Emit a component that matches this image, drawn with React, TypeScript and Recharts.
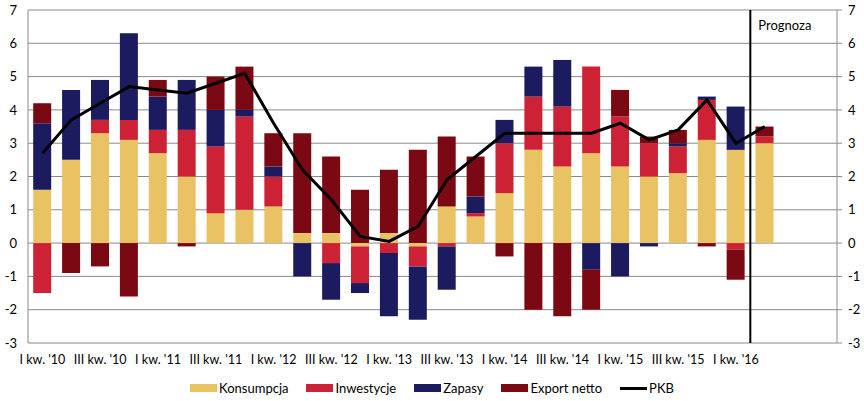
import {
  ComposedChart,
  Bar,
  Line,
  XAxis,
  YAxis,
  CartesianGrid,
  Legend,
  ReferenceLine
} from "recharts"

// kwartały 2010-2016 (dwa ostatnie bez danych - bez podpisu)
const quarters = [
  "I kw. '10", "II kw. '10", "III kw. '10", "IV kw. '10",
  "I kw. '11", "II kw. '11", "III kw. '11", "IV kw. '11",
  "I kw. '12", "II kw. '12", "III kw. '12", "IV kw. '12",
  "I kw. '13", "II kw. '13", "III kw. '13", "IV kw. '13",
  "I kw. '14", "II kw. '14", "III kw. '14", "IV kw. '14",
  "I kw. '15", "II kw. '15", "III kw. '15", "IV kw. '15",
  "I kw. '16", "II kw. '16", "III kw. '16", "IV kw. '16"
]

const konsumpcja = [1.6, 2.5, 3.3, 3.1, 2.7, 2.0, 0.9, 1.0, 1.1, 0.3, 0.3, -0.1, 0.3, -0.1, 1.1, 0.8, 1.5, 2.8, 2.3, 2.7, 2.3, 2.0, 2.1, 3.1, 2.8, 3.0]
const inwestycje = [-1.5, 0, 0.4, 0.6, 0.7, 1.4, 2.0, 2.8, 0.9, 0, -0.6, -1.1, -0.3, -0.6, -0.1, 0.1, 1.5, 1.6, 1.8, 2.6, 1.5, 1.0, 0.8, 1.2, -0.2, 0.2]
const zapasy = [2.0, 2.1, 1.2, 2.6, 1.0, 1.5, 1.1, 0.2, 0.3, -1.0, -1.1, -0.3, -1.9, -1.6, -1.3, 0.5, 0.7, 0.9, 1.4, -0.8, -1.0, -0.1, 0.1, 0.1, 1.3, 0]
const exportNetto = [0.6, -0.9, -0.7, -1.6, 0.5, -0.1, 1.0, 1.3, 1.0, 3.0, 2.3, 1.6, 1.9, 2.8, 2.1, 1.2, -0.4, -2.0, -2.2, -1.2, 0.8, 0.2, 0.4, -0.1, -0.9, 0.3]
const pkb = [2.7, 3.7, 4.2, 4.7, 4.6, 4.5, 4.8, 5.1, 3.6, 2.2, 1.3, 0.2, 0.05, 0.5, 1.9, 2.6, 3.3, 3.3, 3.3, 3.3, 3.6, 3.1, 3.4, 4.3, 3.0, 3.5]

const yTicks = [-3, -2, -1, 0, 1, 2, 3, 4, 5, 6, 7]
const forecastStart = "II kw. '16"

const series = [
  { key: "konsumpcja", name: "Konsumpcja", color: "#E9C263" },
  { key: "inwestycje", name: "Inwestycje", color: "#CD2236" },
  { key: "zapasy", name: "Zapasy", color: "#1D1B5F" },
  { key: "exportNetto", name: "Export netto", color: "#7A0914" }
]

const data = quarters.map((q, i) => ({
  q,
  konsumpcja: konsumpcja[i] ?? null,
  inwestycje: inwestycje[i] ?? null,
  zapasy: zapasy[i] ?? null,
  exportNetto: exportNetto[i] ?? null,
  pkb: pkb[i] ?? null
}))

const FONT = "Lato, 'Open Sans', sans-serif"
const GRID = "#8a8a8a"

// kwartały bez danych nie dostają podpisu
const formatQuarter = (v: string) => (quarters.indexOf(v) < pkb.length ? v : "")

function ForecastLabel(props: any) {
  const vb = props.viewBox || {}
  return (
    <text x={vb.x + 8} y={vb.y + 20} fontSize={13} fontFamily={FONT} fill="#000">
      Prognoza
    </text>
  )
}

function ChartLegend() {
  return (
    <div className="lg">
      {series.map(s => (
        <div className="lg-item" key={s.key}>
          <span className="lg-box" style={{ background: s.color }} />
          <span>{s.name}</span>
        </div>
      ))}
      <div className="lg-item">
        <span className="lg-line" />
        <span>PKB</span>
      </div>
    </div>
  )
}

export default function App() {
  return (
    <div className="wrap">
      <ComposedChart
        width={864}
        height={401}
        data={data}
        stackOffset="sign"
        barCategoryGap="18%"
        margin={{ top: 10, right: 0, bottom: 0, left: 0 }}
      >
        <CartesianGrid vertical={false} stroke={GRID} yAxisId="left" />
        <XAxis
          dataKey="q"
          interval={1}
          axisLine={false}
          tickLine={false}
          height={26}
          tickMargin={6}
          tickFormatter={formatQuarter}
          tick={{ fontSize: 12.5, fill: "#000", fontFamily: FONT }}
        />
        <YAxis
          yAxisId="left"
          domain={[-3, 7]}
          ticks={yTicks}
          width={28}
          axisLine={{ stroke: GRID }}
          tickLine={false}
          tickMargin={5}
          tick={{ fontSize: 13, fill: "#000", fontFamily: FONT }}
        />
        <YAxis
          yAxisId="right"
          orientation="right"
          domain={[-3, 7]}
          ticks={yTicks}
          width={27}
          axisLine={{ stroke: GRID }}
          tickLine={{ stroke: GRID }}
          tickSize={5}
          tickMargin={6}
          tick={{ fontSize: 13, fill: "#000", fontFamily: FONT }}
        />
        {series.map(s => (
          <Bar
            key={s.key}
            yAxisId="left"
            dataKey={s.key}
            name={s.name}
            stackId="a"
            fill={s.color}
            isAnimationActive={false}
          />
        ))}
        <Line
          yAxisId="right"
          dataKey="pkb"
          name="PKB"
          type="linear"
          stroke="#000"
          strokeWidth={3}
          dot={false}
          activeDot={false}
          isAnimationActive={false}
        />
        <ReferenceLine
          yAxisId="right"
          x={forecastStart}
          position="start"
          stroke="#000"
          strokeWidth={2}
          label={ForecastLabel}
        />
        <Legend verticalAlign="bottom" content={() => <ChartLegend />} />
      </ComposedChart>

      <style>{`
        .wrap {
          position:absolute;
          left:0;
          top:0;
          width:864px;
          height:401px;
          background:#fff;
        }
        .lg {
          height:32px;
          display:flex;
          justify-content:center;
          align-items:center;
          gap:18px;
          font-family:${FONT};
          font-size:13px;
          color:#000;
          padding-top:6px;
          box-sizing:border-box;
        }
        .lg-item {
          display:flex;
          align-items:center;
          gap:2px;
        }
        .lg-box {
          display:inline-block;
          width:27px;
          height:8px;
        }
        .lg-line {
          display:inline-block;
          width:27px;
          height:3px;
          background:#000;
        }
      `}</style>
    </div>
  )
}
